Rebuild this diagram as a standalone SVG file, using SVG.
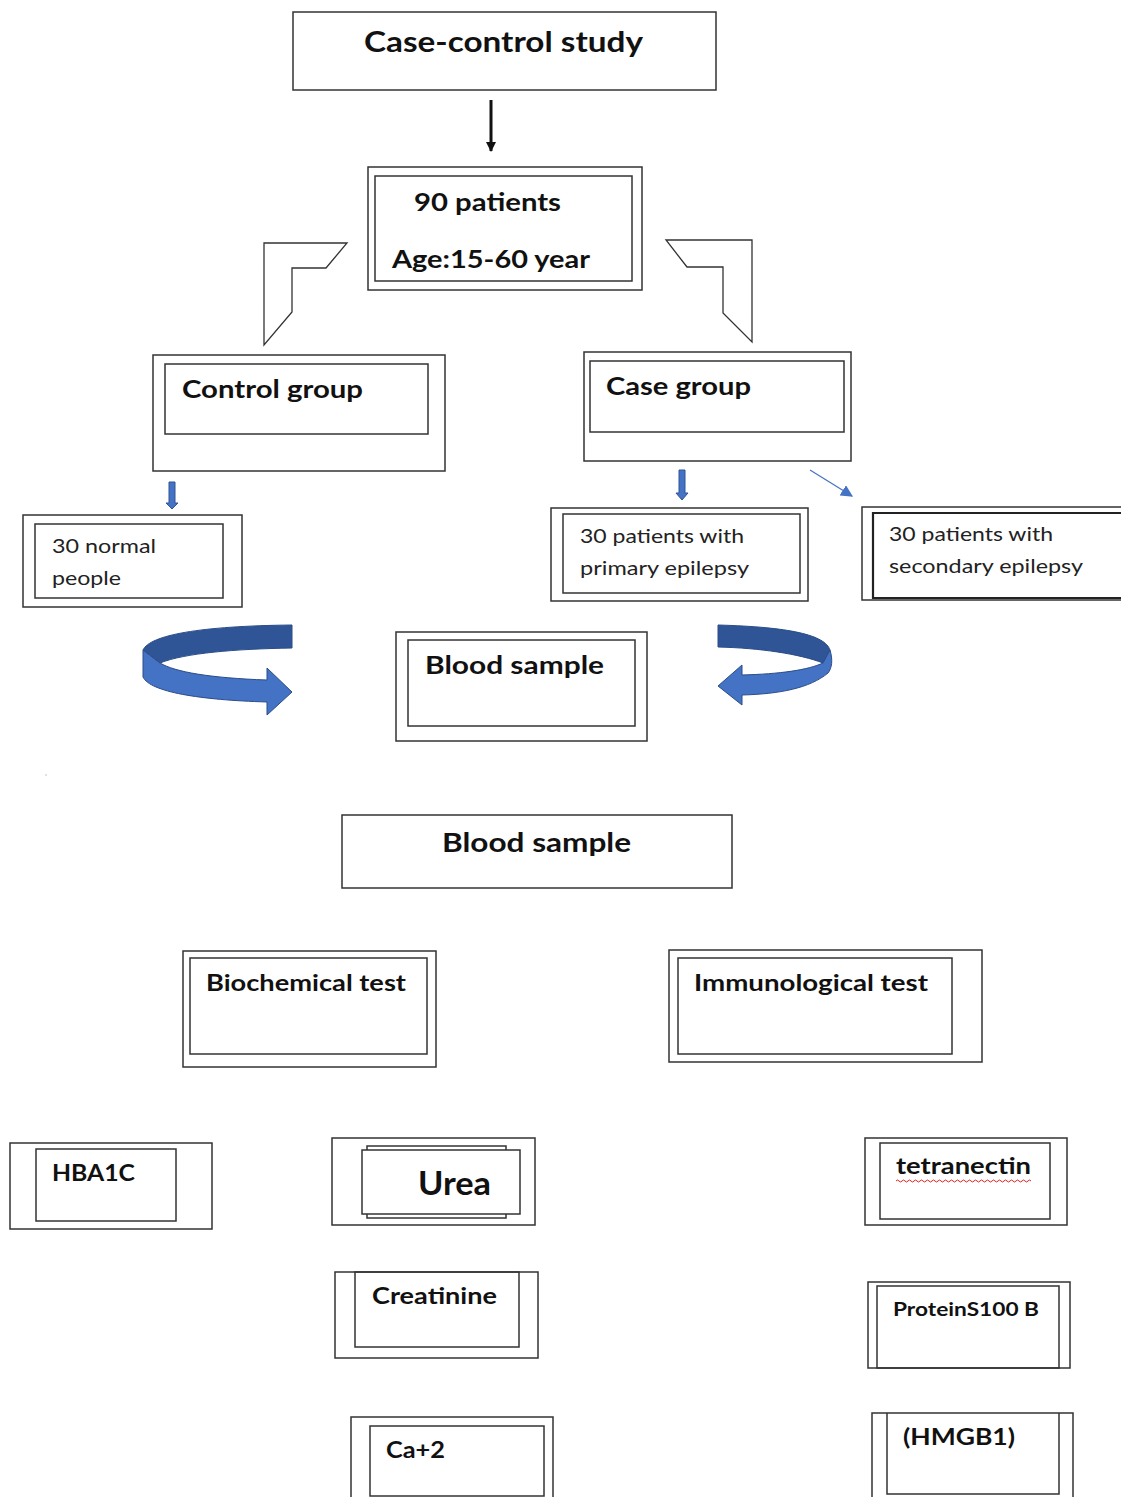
<svg xmlns="http://www.w3.org/2000/svg" width="1121" height="1497" viewBox="0 0 1121 1497">
<style>
.b{fill:none;stroke:#333;stroke-width:1.5}
.t{font-family:Lato,"Open Sans","Liberation Sans",sans-serif;font-weight:bold;fill:#111}
.r{font-family:Lato,"Open Sans","Liberation Sans",sans-serif;font-weight:normal;fill:#222;font-size:20px}
.dk{fill:#2F5597;stroke:#2a4d88;stroke-width:1}
.lt{fill:#4472C4;stroke:#2a4d88;stroke-width:1}
</style>
<defs>
<marker id="ah" viewBox="0 0 10 10" refX="9" refY="5" markerWidth="10" markerHeight="10" markerUnits="userSpaceOnUse" orient="auto"><path d="M0,0 L10,5 L0,10 Z" fill="#111"/></marker>
<marker id="bh" viewBox="0 0 10 10" refX="9" refY="5" markerWidth="12" markerHeight="12" markerUnits="userSpaceOnUse" orient="auto"><path d="M0,0 L10,5 L0,10 Z" fill="#4472C4"/></marker>
</defs>
<rect width="1121" height="1497" fill="#fff"/>

<g id="connectors">
<line x1="491" y1="100" x2="491" y2="151" stroke="#111" stroke-width="3" marker-end="url(#ah)"/>
<polygon points="264,345 264,243 347,243 326,268 292,268 292,312" fill="#fff" stroke="#333" stroke-width="1.3"/>
<polygon points="666,240 752,240 752,342 723,313 723,267 687,267" fill="#fff" stroke="#333" stroke-width="1.3"/>
<path d="M169,482 H175 V503 H178 L172,509 L166,503 H169 Z" fill="#4472C4" stroke="#2F5597" stroke-width="1"/>
<path d="M679,470 H685 V493 H688 L682,500 L676,493 H679 Z" fill="#4472C4" stroke="#2F5597" stroke-width="1"/>
<line x1="810" y1="470" x2="852" y2="496" stroke="#4472C4" stroke-width="1.2" marker-end="url(#bh)"/>
<g id="curve-left">
<path class="dk" d="M292,625 L292,648 C235,649 185,653 160,663 L143,650 C150,635 200,626 292,625 Z"/>
<path class="lt" d="M143,650 L143,677 C150,692 200,700 267,702 L267,715 L292,692 L267,668 L267,680 C210,678 175,672 160,663 Z"/>
</g>
<g id="curve-right">
<path class="dk" d="M718,625 L718,647 C760,648 800,654 823,663 L830,650 C825,635 790,627 718,625 Z"/>
<path class="lt" d="M823,663 L830,650 C833,660 832,668 828,673 C810,688 780,694 742,695 L742,705 L718,686 L742,665 L742,675 C780,674 808,670 823,663 Z"/>
</g>
</g>

<g id="n-study">
<rect class="b" x="293" y="12" width="423" height="78"/>
<text class="t" x="364" y="52" font-size="28" textLength="279" lengthAdjust="spacingAndGlyphs">Case-control study</text>
</g>
<g id="n-patients">
<rect class="b" x="368" y="167" width="274" height="123"/>
<rect class="b" x="375" y="176" width="257" height="105"/>
<text class="t" x="414" y="211" font-size="25" textLength="147" lengthAdjust="spacingAndGlyphs">90 patients</text>
<text class="t" x="392" y="268" font-size="25" textLength="198" lengthAdjust="spacingAndGlyphs">Age:15-60 year</text>
</g>
<g id="n-control">
<rect class="b" x="153" y="355" width="292" height="116"/>
<rect class="b" x="165" y="364" width="263" height="70"/>
<text class="t" x="182" y="398" font-size="25" textLength="181" lengthAdjust="spacingAndGlyphs">Control group</text>
</g>
<g id="n-case">
<rect class="b" x="584" y="352" width="267" height="109"/>
<rect class="b" x="590" y="361" width="254" height="71"/>
<text class="t" x="606" y="395" font-size="25" textLength="145" lengthAdjust="spacingAndGlyphs">Case group</text>
</g>
<g id="n-normal">
<rect class="b" x="23" y="515" width="219" height="92"/>
<rect class="b" x="35" y="524" width="188" height="74"/>
<text class="r" x="52" y="553" textLength="104" lengthAdjust="spacingAndGlyphs">30 normal</text>
<text class="r" x="52" y="585" textLength="69" lengthAdjust="spacingAndGlyphs">people</text>
</g>
<g id="n-primary">
<rect class="b" x="551" y="508" width="257" height="93"/>
<rect class="b" x="563" y="514" width="237" height="79"/>
<text class="r" x="580" y="543" textLength="164" lengthAdjust="spacingAndGlyphs">30 patients with</text>
<text class="r" x="580" y="575" textLength="169" lengthAdjust="spacingAndGlyphs">primary epilepsy</text>
</g>
<g id="n-secondary">
<path class="b" d="M1121,507 H862 V600 H1121"/>
<path d="M1121,513 H873 V598 H1121" fill="none" stroke="#222" stroke-width="2.2"/>
<text class="r" x="889" y="541" textLength="164" lengthAdjust="spacingAndGlyphs">30 patients with</text>
<text class="r" x="889" y="573" textLength="194" lengthAdjust="spacingAndGlyphs">secondary epilepsy</text>
</g>
<g id="n-blood1">
<rect class="b" x="396" y="632" width="251" height="109"/>
<rect class="b" x="408" y="640" width="227" height="86"/>
<text class="t" x="425" y="674" font-size="25" textLength="179" lengthAdjust="spacingAndGlyphs">Blood sample</text>
</g>
<rect x="45.5" y="774.5" width="1" height="1" fill="#888"/>
<g id="n-blood2">
<rect class="b" x="342" y="815" width="390" height="73"/>
<text class="t" x="442" y="852" font-size="26" textLength="189" lengthAdjust="spacingAndGlyphs">Blood sample</text>
</g>
<g id="n-biochem">
<rect class="b" x="183" y="951" width="253" height="116"/>
<rect class="b" x="190" y="958" width="237" height="96"/>
<text class="t" x="206" y="991" font-size="23" textLength="200" lengthAdjust="spacingAndGlyphs">Biochemical test</text>
</g>
<g id="n-immuno">
<rect class="b" x="669" y="950" width="313" height="112"/>
<rect class="b" x="678" y="958" width="274" height="96"/>
<text class="t" x="694" y="991" font-size="23" textLength="234" lengthAdjust="spacingAndGlyphs">Immunological test</text>
</g>
<g id="n-hba1c">
<rect class="b" x="10" y="1143" width="202" height="86"/>
<rect class="b" x="36" y="1149" width="140" height="72"/>
<text class="t" x="52" y="1181" font-size="22" textLength="83" lengthAdjust="spacingAndGlyphs">HBA1C</text>
</g>
<g id="n-urea">
<rect class="b" x="332" y="1138" width="203" height="87"/>
<rect class="b" x="367" y="1146" width="139" height="72"/>
<rect x="362" y="1150" width="158" height="64" fill="#fff" stroke="#333" stroke-width="1.5"/>
<text class="t" x="418" y="1195" font-size="32" textLength="73" lengthAdjust="spacingAndGlyphs">Urea</text>
</g>
<g id="n-creatinine">
<rect class="b" x="335" y="1272" width="203" height="86"/>
<rect class="b" x="355" y="1272" width="164" height="75"/>
<text class="t" x="372" y="1304" font-size="22" textLength="125" lengthAdjust="spacingAndGlyphs">Creatinine</text>
</g>
<g id="n-ca">
<path class="b" d="M351,1497 V1417 H553 V1497"/>
<rect class="b" x="370" y="1426" width="174" height="70"/>
<text class="t" x="386" y="1458" font-size="22" textLength="59" lengthAdjust="spacingAndGlyphs">Ca+2</text>
</g>
<g id="n-tetranectin">
<rect class="b" x="865" y="1138" width="202" height="87"/>
<rect class="b" x="880" y="1143" width="170" height="76"/>
<text class="t" x="896" y="1174" font-size="22" textLength="135" lengthAdjust="spacingAndGlyphs">tetranectin</text>
<path d="M896,1181 q1.5,-2 3,0 t3,0 t3,0 t3,0 t3,0 t3,0 t3,0 t3,0 t3,0 t3,0 t3,0 t3,0 t3,0 t3,0 t3,0 t3,0 t3,0 t3,0 t3,0 t3,0 t3,0 t3,0 t3,0 t3,0 t3,0 t3,0 t3,0 t3,0 t3,0 t3,0 t3,0 t3,0 t3,0 t3,0 t3,0 t3,0 t3,0 t3,0 t3,0 t3,0 t3,0 t3,0 t3,0 t3,0 t3,0" fill="none" stroke="#e02020" stroke-width="1"/>
</g>
<g id="n-s100b">
<rect class="b" x="868" y="1282" width="202" height="86"/>
<rect class="b" x="877" y="1286" width="182" height="82"/>
<text class="t" x="893" y="1316" font-size="18" textLength="146" lengthAdjust="spacingAndGlyphs">ProteinS100 B</text>
</g>
<g id="n-hmgb1">
<path class="b" d="M872,1497 V1413 H1073 V1497"/>
<path class="b" d="M887,1413 V1494 H1059 V1413"/>
<text class="t" x="903" y="1445" font-size="23" textLength="112" lengthAdjust="spacingAndGlyphs">(HMGB1)</text>
</g>
</svg>
